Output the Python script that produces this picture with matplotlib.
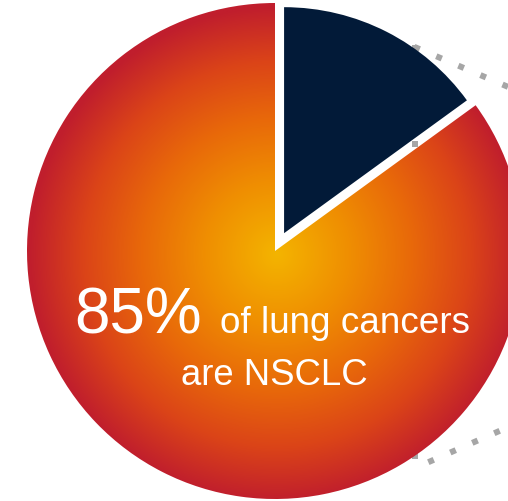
import numpy as np
import matplotlib
matplotlib.use("Agg")
import matplotlib.pyplot as plt
from matplotlib.colors import LinearSegmentedColormap

# ---- data ----
categories = ["Other lung cancers", "NSCLC"]
shares = [15, 85]
headline = f"{shares[1]}%"
caption_line1 = "of lung cancers"
caption_line2 = "are NSCLC"

# ---- style ----
W, H = 508, 502
NAVY = "#021a38"
DOT = "#a6a6a6"
grad_cmap = LinearSegmentedColormap.from_list(
    "nsclc",
    [(0.0, "#f4b400"), (0.30, "#ef8d02"), (0.55, "#e8680a"),
     (0.78, "#db4418"), (1.0, "#c01e2d")])

plt.rcParams["font.family"] = ["Liberation Sans", "DejaVu Sans"]

fig = plt.figure(figsize=(W / 100, H / 100), dpi=100)
ax = fig.add_axes([0, 0, 1, 1])


def py(y):
    return H - y


cx, cy, R = 275, py(252), 248
wedges, _ = ax.pie(shares, startangle=90, counterclock=False,
                   colors=[NAVY, "none"], center=(cx, cy), radius=R,
                   explode=[20, 0], wedgeprops=dict(linewidth=0))
navy, red = wedges
navy.set_radius(226)
navy.set_zorder(5)
red.set_zorder(3)

# radial gradient fill of the NSCLC slice
gx, gy = 277, py(255)
xs = np.linspace(cx - R, cx + R, 600)
ys = np.linspace(cy - R, cy + R, 600)
X, Y = np.meshgrid(xs, ys)
D = np.clip(np.hypot(X - gx, Y - gy) / R, 0, 1)
im = ax.imshow(D, cmap=grad_cmap, vmin=0, vmax=1, origin="lower",
               extent=(cx - R, cx + R, cy - R, cy + R), zorder=3,
               interpolation="bilinear")
im.set_clip_path(red)

# dotted callout lines (behind the pie)
dot_kw = dict(color=DOT, lw=4.32, dashes=(1, 3), solid_capstyle="butt",
              dash_capstyle="butt", zorder=1)
ax.plot([415, 415], [py(46), py(467)], **dot_kw)
ax.plot([414.2, 414.2 + 0.92 * 140], [py(47.8), py(47.8 + 0.393 * 140)], **dot_kw)
ax.plot([428.3, 428.3 + 0.915 * 120], [py(463.2), py(463.2 - 0.402 * 120)], **dot_kw)

# texts
ax.text(74, py(333), headline, color="white", fontsize=46,
        ha="left", va="baseline", zorder=10)
ax.text(220, py(333), caption_line1, color="white", fontsize=26.6,
        ha="left", va="baseline", zorder=10)
ax.text(274, py(385), caption_line2, color="white", fontsize=26.3,
        ha="center", va="baseline", zorder=10)

ax.set_xlim(0, W)
ax.set_ylim(0, H)
ax.set_aspect("auto")
ax.axis("off")
fig.savefig("out.png", dpi=100, facecolor="white")
